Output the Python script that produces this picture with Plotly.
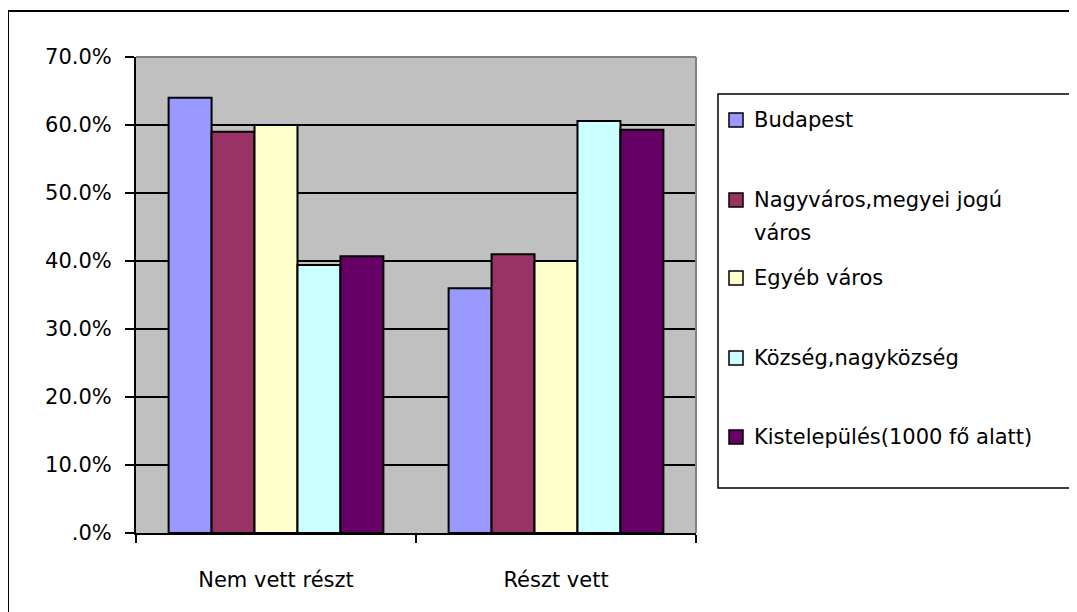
import plotly.graph_objects as go

categories = ["Nem vett részt", "Részt vett"]
series_names = ["Budapest", "Nagyváros,megyei jogú\nváros", "Egyéb város",
                "Község,nagyközség", "Kistelepülés(1000 fő alatt)"]
nem_vett = [0.640, 0.590, 0.600, 0.394, 0.407]
reszt_vett = [0.360, 0.410, 0.400, 0.606, 0.593]
colors = ["#9999FF", "#993366", "#FFFFCC", "#CCFFFF", "#660066"]
y_tickvals = [0, 0.1, 0.2, 0.3, 0.4, 0.5, 0.6, 0.7]
y_ticktext = [".0%", "10.0%", "20.0%", "30.0%", "40.0%", "50.0%", "60.0%", "70.0%"]

OFF = 8  # default page body margin
W, H = 1077 - OFF, 612 - OFF
FONT = "DejaVu Sans, sans-serif"
FS = 21

# plot area in page pixels
PL, PR, PT, PB = 136, 696, 57, 533
L, R, T, B = PL - OFF, PR - OFF, PT - OFF, PB - OFF

fig = go.Figure()
for i, name in enumerate(series_names):
    fig.add_trace(go.Bar(
        x=categories, y=[nem_vett[i], reszt_vett[i]],
        name=name.replace("\n", " "),
        marker=dict(color=colors[i], line=dict(color="black", width=2)),
        showlegend=False,
    ))

fig.update_layout(
    width=W, height=H,
    margin=dict(l=L, r=W - R, t=T, b=H - B, autoexpand=False),
    paper_bgcolor="white", plot_bgcolor="#C0C0C0",
    barmode="group", bargap=0.233, bargroupgap=0,
    font=dict(family=FONT, size=FS, color="black"),
)
fig.update_yaxes(
    range=[0, 0.7], tickvals=y_tickvals, ticktext=y_ticktext,
    showgrid=True, gridcolor="black", gridwidth=2,
    showline=True, linecolor="black", linewidth=2,
    ticks="outside", ticklen=9, tickcolor="black", tickwidth=2,
    ticklabelstandoff=9, zeroline=False,
    tickfont=dict(family=FONT, size=FS),
)
fig.update_xaxes(
    showline=True, linecolor="black", linewidth=2,
    ticks="outside", ticklen=8, tickcolor="black", tickwidth=2,
    tickson="boundaries", ticklabelstandoff=27,
    tickfont=dict(family=FONT, size=FS),
)


def ppx(x):
    """page pixel x -> plot-area paper coordinate"""
    return (x - PL) / (PR - PL)


def ppy(y):
    return (PB - y) / (PB - PT)


shapes = []
# outer chart frame (only top and left edges are inside the picture)
shapes.append(dict(type="rect", xref="paper", yref="paper",
                   x0=ppx(8), x1=ppx(1100), y0=ppy(11), y1=ppy(640),
                   line=dict(color="black", width=2)))
# plot area top and right border (gray)
shapes.append(dict(type="line", xref="paper", yref="paper",
                   x0=0, x1=1, y0=1, y1=1, line=dict(color="#808080", width=2)))
shapes.append(dict(type="line", xref="paper", yref="paper",
                   x0=1, x1=1, y0=0, y1=1, line=dict(color="#808080", width=2)))
# legend box
shapes.append(dict(type="rect", xref="paper", yref="paper",
                   x0=ppx(718), x1=ppx(1073), y0=ppy(94), y1=ppy(488),
                   line=dict(color="black", width=1.5), fillcolor="white"))

annotations = []
legend_y = [120, 200, 278, 358, 437]
for i, name in enumerate(series_names):
    yc = legend_y[i]
    shapes.append(dict(type="rect", xref="paper", yref="paper",
                       x0=ppx(729), x1=ppx(743), y0=ppy(yc - 7), y1=ppy(yc + 7),
                       line=dict(color="black", width=1.5), fillcolor=colors[i]))
    for j, line in enumerate(name.split("\n")):
        annotations.append(dict(
            xref="paper", yref="paper", x=ppx(752), y=ppy(yc + 33 * j),
            xanchor="left", yanchor="middle", text=line, showarrow=False,
            font=dict(family=FONT, size=FS, color="black"),
        ))

fig.update_layout(shapes=shapes, annotations=annotations)
fig.write_html("out.html")
